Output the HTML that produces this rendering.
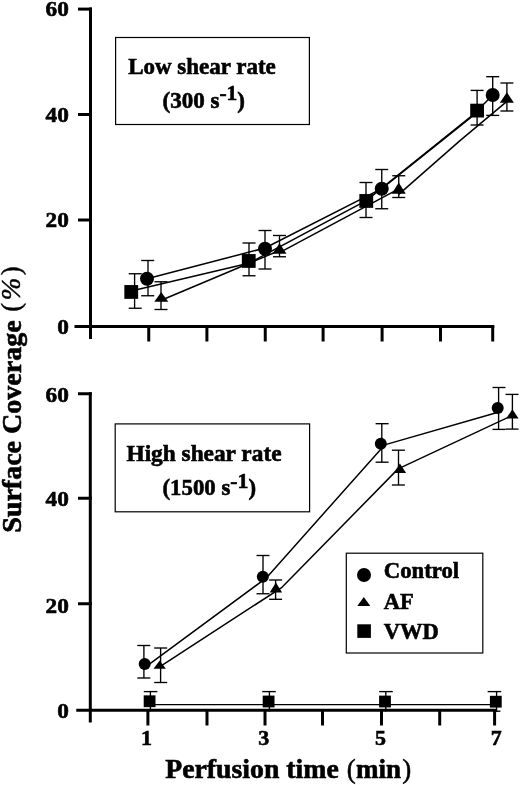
<!DOCTYPE html>
<html><head><meta charset="utf-8"><title>Surface coverage</title>
<style>
html,body{margin:0;padding:0;background:#fff;}
body{width:520px;height:785px;overflow:hidden;font-family:"Liberation Serif",serif;}
svg{display:block;font-family:"Liberation Serif",serif;filter:grayscale(1);}
</style></head><body>
<svg width="520" height="785" viewBox="0 0 520 785">
<rect width="520" height="785" fill="#fff"/>
<line x1="90.5" y1="7.6" x2="90.5" y2="339" stroke="#000" stroke-width="3.0" stroke-linecap="butt"/>
<line x1="74.5" y1="326.4" x2="494.3" y2="326.4" stroke="#000" stroke-width="3.0" stroke-linecap="butt"/>
<line x1="78" y1="9.1" x2="92" y2="9.1" stroke="#000" stroke-width="3.0" stroke-linecap="butt"/>
<line x1="78" y1="114.5" x2="92" y2="114.5" stroke="#000" stroke-width="3.0" stroke-linecap="butt"/>
<line x1="78" y1="220" x2="92" y2="220" stroke="#000" stroke-width="3.0" stroke-linecap="butt"/>
<line x1="148.75" y1="326" x2="148.75" y2="341.5" stroke="#000" stroke-width="3.0" stroke-linecap="butt"/>
<line x1="206.9" y1="326" x2="206.9" y2="341.5" stroke="#000" stroke-width="3.0" stroke-linecap="butt"/>
<line x1="265.25" y1="326" x2="265.25" y2="341.5" stroke="#000" stroke-width="3.0" stroke-linecap="butt"/>
<line x1="323.1" y1="326" x2="323.1" y2="341.5" stroke="#000" stroke-width="3.0" stroke-linecap="butt"/>
<line x1="382.1" y1="326" x2="382.1" y2="341.5" stroke="#000" stroke-width="3.0" stroke-linecap="butt"/>
<line x1="440.5" y1="326" x2="440.5" y2="341.5" stroke="#000" stroke-width="3.0" stroke-linecap="butt"/>
<line x1="492.7" y1="326" x2="492.7" y2="341.5" stroke="#000" stroke-width="3.0" stroke-linecap="butt"/>
<text x="68.8" y="16.1" font-size="21.3" font-weight="bold" text-anchor="end" stroke="#000" stroke-width="0.6" textLength="23.2" lengthAdjust="spacingAndGlyphs">60</text>
<text x="68.8" y="121.6" font-size="21.3" font-weight="bold" text-anchor="end" stroke="#000" stroke-width="0.6" textLength="23.2" lengthAdjust="spacingAndGlyphs">40</text>
<text x="68.8" y="227.1" font-size="21.3" font-weight="bold" text-anchor="end" stroke="#000" stroke-width="0.6" textLength="23.2" lengthAdjust="spacingAndGlyphs">20</text>
<text x="68.8" y="333.6" font-size="21.3" font-weight="bold" text-anchor="end" stroke="#000" stroke-width="0.6" textLength="11.6" lengthAdjust="spacingAndGlyphs">0</text>
<rect x="115.6" y="37.5" width="193.8" height="87" fill="none" stroke="#000" stroke-width="1.2"/>
<text x="128.25" y="74.25" font-size="22.5" font-weight="bold" text-anchor="start" stroke="#000" stroke-width="0.6" textLength="147.5" lengthAdjust="spacingAndGlyphs">Low shear rate</text>
<text x="162.5" y="108.25" font-size="22.5" font-weight="bold" text-anchor="start" stroke="#000" stroke-width="0.6" textLength="82.5" lengthAdjust="spacingAndGlyphs">(300 s<tspan dy="-8" font-size="21">-1</tspan><tspan dy="8">)</tspan></text>
<polyline points="147,278.7 265,248.0 381.75,188.7 470,118.2 492.7,95" fill="none" stroke="#000" stroke-width="1.5" stroke-linejoin="round"/>
<polyline points="131.25,290.9 248.75,263.3 366.25,200.6 477.1,111.5" fill="none" stroke="#000" stroke-width="1.5" stroke-linejoin="round"/>
<polyline points="161.25,300.2 279.5,250.5" fill="none" stroke="#000" stroke-width="1.5" stroke-linejoin="round"/>
<polyline points="279.5,252.7 398.75,188.9" fill="none" stroke="#000" stroke-width="1.5" stroke-linejoin="round"/>
<polyline points="398.75,194.4 460,140.6 506.9,101.4" fill="none" stroke="#000" stroke-width="1.5" stroke-linejoin="round"/>
<line x1="134.6" y1="273.75" x2="134.6" y2="308.25" stroke="#000" stroke-width="1.35" stroke-linecap="butt"/>
<line x1="128.7" y1="273.75" x2="141.7" y2="273.75" stroke="#000" stroke-width="1.35" stroke-linecap="butt"/>
<line x1="128.7" y1="308.25" x2="141.7" y2="308.25" stroke="#000" stroke-width="1.35" stroke-linecap="butt"/>
<line x1="249" y1="243" x2="249" y2="275.75" stroke="#000" stroke-width="1.35" stroke-linecap="butt"/>
<line x1="242.5" y1="243" x2="255.5" y2="243" stroke="#000" stroke-width="1.35" stroke-linecap="butt"/>
<line x1="242.5" y1="275.75" x2="255.5" y2="275.75" stroke="#000" stroke-width="1.35" stroke-linecap="butt"/>
<line x1="366" y1="182.5" x2="366" y2="217.5" stroke="#000" stroke-width="1.35" stroke-linecap="butt"/>
<line x1="359.5" y1="182.5" x2="372.5" y2="182.5" stroke="#000" stroke-width="1.35" stroke-linecap="butt"/>
<line x1="359.5" y1="217.5" x2="372.5" y2="217.5" stroke="#000" stroke-width="1.35" stroke-linecap="butt"/>
<line x1="477.1" y1="90.4" x2="477.1" y2="125" stroke="#000" stroke-width="1.35" stroke-linecap="butt"/>
<line x1="470.6" y1="90.4" x2="483.6" y2="90.4" stroke="#000" stroke-width="1.35" stroke-linecap="butt"/>
<line x1="470.6" y1="125" x2="483.6" y2="125" stroke="#000" stroke-width="1.35" stroke-linecap="butt"/>
<line x1="148" y1="260.5" x2="148" y2="295.75" stroke="#000" stroke-width="1.35" stroke-linecap="butt"/>
<line x1="141.2" y1="260.5" x2="154.2" y2="260.5" stroke="#000" stroke-width="1.35" stroke-linecap="butt"/>
<line x1="141.2" y1="295.75" x2="154.2" y2="295.75" stroke="#000" stroke-width="1.35" stroke-linecap="butt"/>
<line x1="265" y1="230.5" x2="265" y2="269" stroke="#000" stroke-width="1.35" stroke-linecap="butt"/>
<line x1="258.5" y1="230.5" x2="271.5" y2="230.5" stroke="#000" stroke-width="1.35" stroke-linecap="butt"/>
<line x1="258.5" y1="269" x2="271.5" y2="269" stroke="#000" stroke-width="1.35" stroke-linecap="butt"/>
<line x1="381.75" y1="169.5" x2="381.75" y2="208.75" stroke="#000" stroke-width="1.35" stroke-linecap="butt"/>
<line x1="375.25" y1="169.5" x2="388.25" y2="169.5" stroke="#000" stroke-width="1.35" stroke-linecap="butt"/>
<line x1="375.25" y1="208.75" x2="388.25" y2="208.75" stroke="#000" stroke-width="1.35" stroke-linecap="butt"/>
<line x1="492.7" y1="76.7" x2="492.7" y2="115.4" stroke="#000" stroke-width="1.35" stroke-linecap="butt"/>
<line x1="486.2" y1="76.7" x2="499.2" y2="76.7" stroke="#000" stroke-width="1.35" stroke-linecap="butt"/>
<line x1="486.2" y1="115.4" x2="499.2" y2="115.4" stroke="#000" stroke-width="1.35" stroke-linecap="butt"/>
<line x1="161" y1="281.75" x2="161" y2="309.5" stroke="#000" stroke-width="1.35" stroke-linecap="butt"/>
<line x1="154.5" y1="281.75" x2="167.5" y2="281.75" stroke="#000" stroke-width="1.35" stroke-linecap="butt"/>
<line x1="154.5" y1="309.5" x2="167.5" y2="309.5" stroke="#000" stroke-width="1.35" stroke-linecap="butt"/>
<line x1="279.5" y1="235.5" x2="279.5" y2="256.75" stroke="#000" stroke-width="1.35" stroke-linecap="butt"/>
<line x1="273.0" y1="235.5" x2="286.0" y2="235.5" stroke="#000" stroke-width="1.35" stroke-linecap="butt"/>
<line x1="273.0" y1="256.75" x2="286.0" y2="256.75" stroke="#000" stroke-width="1.35" stroke-linecap="butt"/>
<line x1="398.75" y1="175.75" x2="398.75" y2="197.5" stroke="#000" stroke-width="1.35" stroke-linecap="butt"/>
<line x1="392.25" y1="175.75" x2="405.25" y2="175.75" stroke="#000" stroke-width="1.35" stroke-linecap="butt"/>
<line x1="392.25" y1="197.5" x2="405.25" y2="197.5" stroke="#000" stroke-width="1.35" stroke-linecap="butt"/>
<line x1="506.9" y1="83" x2="506.9" y2="111" stroke="#000" stroke-width="1.35" stroke-linecap="butt"/>
<line x1="500.4" y1="83" x2="513.4" y2="83" stroke="#000" stroke-width="1.35" stroke-linecap="butt"/>
<line x1="500.4" y1="111" x2="513.4" y2="111" stroke="#000" stroke-width="1.35" stroke-linecap="butt"/>
<rect x="124.35" y="285.05" width="13.8" height="13.8" fill="#000"/>
<rect x="241.85" y="254.04999999999998" width="13.8" height="13.8" fill="#000"/>
<rect x="359.35" y="194.04999999999998" width="13.8" height="13.8" fill="#000"/>
<rect x="470.20000000000005" y="103.7" width="13.8" height="13.8" fill="#000"/>
<circle cx="147" cy="278.7" r="7.0" fill="#000"/>
<circle cx="265" cy="248.75" r="7.0" fill="#000"/>
<circle cx="381.75" cy="188.75" r="7.0" fill="#000"/>
<circle cx="492.7" cy="95" r="7.0" fill="#000"/>
<polygon points="161.25,292 154.25,301.75 168.25,301.75" fill="#000"/>
<polygon points="279.5,243.25 272.5,253.75 286.5,253.75" fill="#000"/>
<polygon points="398.75,182.5 391.75,193.75 405.75,193.75" fill="#000"/>
<polygon points="506.9,92.3 499.9,102.7 513.9,102.7" fill="#000"/>
<line x1="90.3" y1="392.3" x2="90.3" y2="722.5" stroke="#000" stroke-width="3.0" stroke-linecap="butt"/>
<line x1="76.25" y1="710.3" x2="496.2" y2="710.3" stroke="#000" stroke-width="3.0" stroke-linecap="butt"/>
<line x1="78" y1="393.75" x2="91.8" y2="393.75" stroke="#000" stroke-width="3.0" stroke-linecap="butt"/>
<line x1="78" y1="498.25" x2="91.8" y2="498.25" stroke="#000" stroke-width="3.0" stroke-linecap="butt"/>
<line x1="78" y1="603.75" x2="91.8" y2="603.75" stroke="#000" stroke-width="3.0" stroke-linecap="butt"/>
<line x1="147.9" y1="710" x2="147.9" y2="725.5" stroke="#000" stroke-width="3.0" stroke-linecap="butt"/>
<line x1="207" y1="710" x2="207" y2="725.5" stroke="#000" stroke-width="3.0" stroke-linecap="butt"/>
<line x1="265" y1="710" x2="265" y2="725.5" stroke="#000" stroke-width="3.0" stroke-linecap="butt"/>
<line x1="322.5" y1="710" x2="322.5" y2="725.5" stroke="#000" stroke-width="3.0" stroke-linecap="butt"/>
<line x1="381.5" y1="710" x2="381.5" y2="725.5" stroke="#000" stroke-width="3.0" stroke-linecap="butt"/>
<line x1="439.7" y1="710" x2="439.7" y2="725.5" stroke="#000" stroke-width="3.0" stroke-linecap="butt"/>
<line x1="494.6" y1="710" x2="494.6" y2="725.5" stroke="#000" stroke-width="3.0" stroke-linecap="butt"/>
<text x="68.8" y="401.6" font-size="21.3" font-weight="bold" text-anchor="end" stroke="#000" stroke-width="0.6" textLength="23.2" lengthAdjust="spacingAndGlyphs">60</text>
<text x="68.8" y="505.6" font-size="21.3" font-weight="bold" text-anchor="end" stroke="#000" stroke-width="0.6" textLength="23.2" lengthAdjust="spacingAndGlyphs">40</text>
<text x="68.8" y="612.6" font-size="21.3" font-weight="bold" text-anchor="end" stroke="#000" stroke-width="0.6" textLength="23.2" lengthAdjust="spacingAndGlyphs">20</text>
<text x="68.8" y="718.1" font-size="21.3" font-weight="bold" text-anchor="end" stroke="#000" stroke-width="0.6" textLength="11.6" lengthAdjust="spacingAndGlyphs">0</text>
<text x="146.5" y="745.3" font-size="22" font-weight="bold" text-anchor="middle" stroke="#000" stroke-width="0.6" >1</text>
<text x="263.75" y="745.3" font-size="22" font-weight="bold" text-anchor="middle" stroke="#000" stroke-width="0.6" >3</text>
<text x="380.5" y="745.3" font-size="22" font-weight="bold" text-anchor="middle" stroke="#000" stroke-width="0.6" >5</text>
<text x="496.3" y="745.3" font-size="22" font-weight="bold" text-anchor="middle" stroke="#000" stroke-width="0.6" >7</text>
<rect x="115.2" y="423.9" width="194.4" height="87.9" fill="none" stroke="#000" stroke-width="1.2"/>
<text x="126.5" y="461.2" font-size="22.5" font-weight="bold" text-anchor="start" stroke="#000" stroke-width="0.6" textLength="155" lengthAdjust="spacingAndGlyphs">High shear rate</text>
<text x="162.5" y="495.2" font-size="22.5" font-weight="bold" text-anchor="start" stroke="#000" stroke-width="0.6" textLength="93.5" lengthAdjust="spacingAndGlyphs">(1500 s<tspan dy="-7" font-size="21.5">-1</tspan><tspan dy="7">)</tspan></text>
<polyline points="146,666.6 266.5,577.8 384.6,444.9 499,412" fill="none" stroke="#000" stroke-width="1.5" stroke-linejoin="round"/>
<polyline points="160,666.6 282,587.3 398.1,468.9 512.5,415.3" fill="none" stroke="#000" stroke-width="1.5" stroke-linejoin="round"/>
<line x1="149.6" y1="704.7" x2="495.8" y2="704.7" stroke="#000" stroke-width="1.2" stroke-linecap="butt"/>
<line x1="143.9" y1="645.5" x2="143.9" y2="678" stroke="#000" stroke-width="1.35" stroke-linecap="butt"/>
<line x1="137.3" y1="645.5" x2="150.3" y2="645.5" stroke="#000" stroke-width="1.35" stroke-linecap="butt"/>
<line x1="137.3" y1="678" x2="150.3" y2="678" stroke="#000" stroke-width="1.35" stroke-linecap="butt"/>
<line x1="263" y1="555.5" x2="263" y2="593.75" stroke="#000" stroke-width="1.35" stroke-linecap="butt"/>
<line x1="256.5" y1="555.5" x2="269.5" y2="555.5" stroke="#000" stroke-width="1.35" stroke-linecap="butt"/>
<line x1="256.5" y1="593.75" x2="269.5" y2="593.75" stroke="#000" stroke-width="1.35" stroke-linecap="butt"/>
<line x1="381.8" y1="423.7" x2="381.8" y2="462.2" stroke="#000" stroke-width="1.35" stroke-linecap="butt"/>
<line x1="375.6" y1="423.7" x2="388.6" y2="423.7" stroke="#000" stroke-width="1.35" stroke-linecap="butt"/>
<line x1="375.6" y1="462.2" x2="388.6" y2="462.2" stroke="#000" stroke-width="1.35" stroke-linecap="butt"/>
<line x1="498.6" y1="387.5" x2="498.6" y2="429.4" stroke="#000" stroke-width="1.35" stroke-linecap="butt"/>
<line x1="492.5" y1="387.5" x2="505.5" y2="387.5" stroke="#000" stroke-width="1.35" stroke-linecap="butt"/>
<line x1="492.5" y1="429.4" x2="505.5" y2="429.4" stroke="#000" stroke-width="1.35" stroke-linecap="butt"/>
<line x1="160.6" y1="648" x2="160.6" y2="682.5" stroke="#000" stroke-width="1.35" stroke-linecap="butt"/>
<line x1="154.2" y1="648" x2="167.2" y2="648" stroke="#000" stroke-width="1.35" stroke-linecap="butt"/>
<line x1="154.2" y1="682.5" x2="167.2" y2="682.5" stroke="#000" stroke-width="1.35" stroke-linecap="butt"/>
<line x1="275.6" y1="580" x2="275.6" y2="599.3" stroke="#000" stroke-width="1.35" stroke-linecap="butt"/>
<line x1="269.1" y1="580" x2="282.1" y2="580" stroke="#000" stroke-width="1.35" stroke-linecap="butt"/>
<line x1="269.1" y1="599.3" x2="282.1" y2="599.3" stroke="#000" stroke-width="1.35" stroke-linecap="butt"/>
<line x1="398.5" y1="450.2" x2="398.5" y2="485" stroke="#000" stroke-width="1.35" stroke-linecap="butt"/>
<line x1="391.9" y1="450.2" x2="404.9" y2="450.2" stroke="#000" stroke-width="1.35" stroke-linecap="butt"/>
<line x1="391.9" y1="485" x2="404.9" y2="485" stroke="#000" stroke-width="1.35" stroke-linecap="butt"/>
<line x1="512.4" y1="394.4" x2="512.4" y2="429.1" stroke="#000" stroke-width="1.35" stroke-linecap="butt"/>
<line x1="505.5" y1="394.4" x2="518.5" y2="394.4" stroke="#000" stroke-width="1.35" stroke-linecap="butt"/>
<line x1="505.5" y1="429.1" x2="518.5" y2="429.1" stroke="#000" stroke-width="1.35" stroke-linecap="butt"/>
<line x1="150.4" y1="691.6" x2="150.4" y2="711.5" stroke="#000" stroke-width="1.35" stroke-linecap="butt"/>
<line x1="143.79999999999998" y1="691.6" x2="157.4" y2="691.6" stroke="#000" stroke-width="1.35" stroke-linecap="butt"/>
<line x1="269.40000000000003" y1="691.6" x2="269.40000000000003" y2="711.5" stroke="#000" stroke-width="1.35" stroke-linecap="butt"/>
<line x1="262.2" y1="691.6" x2="275.8" y2="691.6" stroke="#000" stroke-width="1.35" stroke-linecap="butt"/>
<line x1="385.8" y1="691.6" x2="385.8" y2="711.5" stroke="#000" stroke-width="1.35" stroke-linecap="butt"/>
<line x1="379.2" y1="691.6" x2="392.8" y2="691.6" stroke="#000" stroke-width="1.35" stroke-linecap="butt"/>
<line x1="496.6" y1="691.6" x2="496.6" y2="711.5" stroke="#000" stroke-width="1.35" stroke-linecap="butt"/>
<line x1="487.59999999999997" y1="691.6" x2="501.2" y2="691.6" stroke="#000" stroke-width="1.35" stroke-linecap="butt"/>
<line x1="495.8" y1="711.2" x2="500.4" y2="711.2" stroke="#000" stroke-width="1.35" stroke-linecap="butt"/>
<circle cx="144.7" cy="664.1" r="6.0" fill="#000"/>
<circle cx="262.8" cy="576.7" r="6.0" fill="#000"/>
<circle cx="380.8" cy="443.8" r="6.0" fill="#000"/>
<circle cx="497.7" cy="408.0" r="6.0" fill="#000"/>
<polygon points="159.7,660.5 153.5,668.8 165.89999999999998,668.8" fill="#000"/>
<polygon points="275.9,582.4 269.7,592.4 282.09999999999997,592.4" fill="#000"/>
<polygon points="399.9,463.6 393.7,473.0 406.09999999999997,473.0" fill="#000"/>
<polygon points="512.4,409.3 506.2,418.4 518.6,418.4" fill="#000"/>
<rect x="143.7" y="695.35" width="11.8" height="11.8" fill="#000"/>
<rect x="262.70000000000005" y="695.6" width="11.8" height="11.8" fill="#000"/>
<rect x="379.1" y="695.6" width="11.8" height="11.8" fill="#000"/>
<rect x="489.90000000000003" y="695.8000000000001" width="11.8" height="11.8" fill="#000"/>
<rect x="346.3" y="553.2" width="136.5" height="99.8" fill="#fff" stroke="#000" stroke-width="1.2"/>
<circle cx="364" cy="575" r="7.0" fill="#000"/>
<polygon points="363.8,596.9 357.3,606.1 370.3,606.1" fill="#000"/>
<rect x="357.3" y="624.3000000000001" width="13.6" height="13.6" fill="#000"/>
<text x="383.8" y="578.2" font-size="22.5" font-weight="bold" text-anchor="start" stroke="#000" stroke-width="0.6" textLength="75.3" lengthAdjust="spacingAndGlyphs">Control</text>
<text x="383.8" y="609.0" font-size="22.5" font-weight="bold" text-anchor="start" stroke="#000" stroke-width="0.6" >AF</text>
<text x="383.8" y="638.7" font-size="22.5" font-weight="bold" text-anchor="start" stroke="#000" stroke-width="0.6" >VWD</text>
<text x="165.2" y="778" font-size="27.5" font-weight="bold" text-anchor="start" stroke="#000" stroke-width="0.6" textLength="173.6" lengthAdjust="spacingAndGlyphs">Perfusion time</text>
<text x="346.8" y="778" font-size="27" stroke="#000" stroke-width="0.5">(</text>
<text x="356" y="778" font-size="27" font-weight="bold" text-anchor="start" stroke="#000" stroke-width="0.6" textLength="45" lengthAdjust="spacingAndGlyphs">min</text>
<text x="402.2" y="778" font-size="27" stroke="#000" stroke-width="0.5">)</text>
<g transform="translate(21.3,531.6) rotate(-90)" font-size="27">
<text x="-1.2" y="0" font-size="28" font-weight="bold" stroke="#000" stroke-width="0.6" textLength="212.5" lengthAdjust="spacingAndGlyphs">Surface Coverage</text>
<text x="224.3" y="-1.2" text-anchor="middle" stroke="#000" stroke-width="0.45">(</text>
<text x="242.5" y="-1.5" text-anchor="middle" font-style="italic" stroke="#000" stroke-width="0.45">%</text>
<text x="260.8" y="-1.2" text-anchor="middle" stroke="#000" stroke-width="0.45">)</text>
</g>
</svg>
</body></html>
